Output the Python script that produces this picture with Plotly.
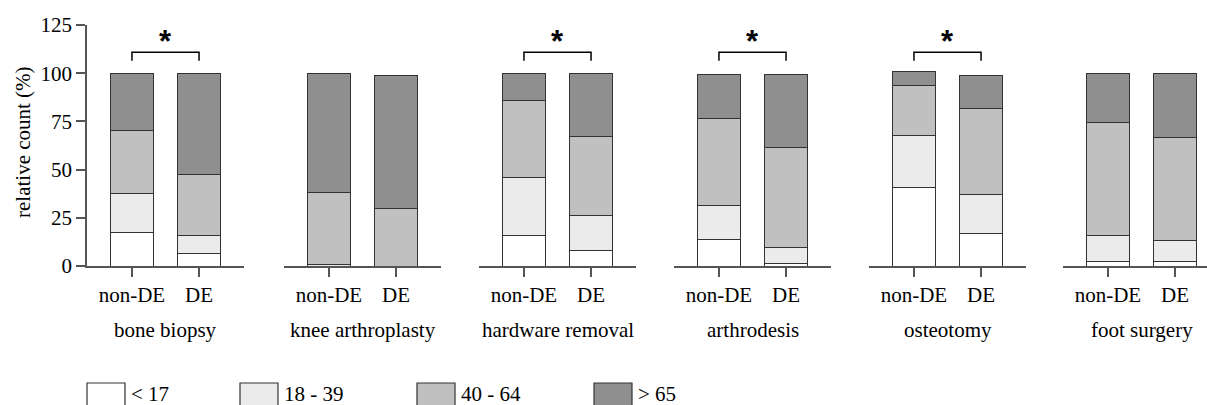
import plotly.graph_objects as go

# Procedures and patient groups
procedures = ["bone biopsy", "knee arthroplasty", "hardware removal",
              "arthrodesis", "osteotomy", "foot surgery"]
groups = ["non-DE", "DE"]
age_groups = ["< 17", "18 - 39", "40 - 64", "> 65"]
age_colors = ["#FFFFFF", "#EBEBEB", "#C0C0C0", "#8F8F8F"]

# Relative counts (%) per age group: one value per procedure
under17_nonde = [17.5, 0.0, 16.0, 13.5, 40.7, 2.1]
under17_de = [6.4, 0.0, 8.2, 1.4, 17.0, 2.1]
age18_39_nonde = [20.1, 0.8, 29.9, 17.9, 27.1, 13.7]
age18_39_de = [9.2, 0.0, 17.8, 8.2, 20.1, 10.9]
age40_64_nonde = [32.9, 37.1, 40.1, 45.0, 26.0, 58.7]
age40_64_de = [32.1, 29.8, 41.1, 51.7, 44.7, 53.9]
over65_nonde = [29.5, 61.7, 14.0, 22.7, 6.9, 25.1]
over65_de = [52.3, 68.8, 32.9, 37.8, 16.8, 32.7]

significant = [True, False, True, True, True, False]

y_ticks = [0, 25, 50, 75, 100, 125]

series = [
    (under17_nonde, under17_de),
    (age18_39_nonde, age18_39_de),
    (age40_64_nonde, age40_64_de),
    (over65_nonde, over65_de),
]

W, H = 1207, 405
FONT = "Liberation Serif"
FS = 21
AXIS_COLOR = "#555555"
EDGE_COLOR = "#333333"

# panel layout in pixels
panel_left = [87, 284, 479, 674, 869, 1063]
panel_width = 157
x_lo, x_hi = -0.67, 1.67
units_per_px = (x_hi - x_lo) / panel_width

fig = go.Figure()

for p, name in enumerate(procedures):
    xa = "x" if p == 0 else f"x{p + 1}"
    for a, (nonde, de) in enumerate(series):
        fig.add_trace(go.Bar(
            x=groups,
            y=[nonde[p], de[p]],
            name=age_groups[a],
            xaxis=xa,
            yaxis="y",
            width=0.64,
            marker=dict(color=age_colors[a],
                        line=dict(color=EDGE_COLOR, width=1.0)),
            showlegend=False,
        ))

layout = dict(
    width=W, height=H,
    margin=dict(l=0, r=0, t=25, b=139, pad=0),
    paper_bgcolor="white", plot_bgcolor="white",
    barmode="stack",
    font=dict(family=FONT, size=FS, color="black"),
    showlegend=False,
    yaxis=dict(
        range=[0, 125], tickvals=y_ticks, anchor="x",
        showline=True, linecolor=AXIS_COLOR, linewidth=1.5,
        ticks="outside", ticklen=9, tickwidth=1.5, tickcolor=AXIS_COLOR,
        showgrid=False, zeroline=False,
        tickfont=dict(family=FONT, size=FS, color="black"),
    ),
)

shapes = []
annotations = []

for p, name in enumerate(procedures):
    left = panel_left[p]
    right = min(left + panel_width, W)
    hi = x_lo + (right - left) * units_per_px
    key = "xaxis" if p == 0 else f"xaxis{p + 1}"
    layout[key] = dict(
        domain=[left / W, right / W],
        range=[x_lo, hi], anchor="y",
        type="category",
        categoryorder="array", categoryarray=groups,
        showline=True, linecolor=AXIS_COLOR, linewidth=1.5,
        ticks="outside", ticklen=9, tickwidth=1.5, tickcolor=AXIS_COLOR,
        showgrid=False, zeroline=False,
        tickfont=dict(family=FONT, size=FS, color="black"),
    )
    xr = "x" if p == 0 else f"x{p + 1}"
    # procedure name under each panel
    annotations.append(dict(
        text=name, xref=xr, yref="paper", x=0.5, y=(266 - 330) / 241,
        showarrow=False, xanchor="center", yanchor="middle",
        font=dict(family=FONT, size=FS, color="black"),
    ))
    # significance bracket between non-DE and DE
    if significant[p]:
        shapes.append(dict(
            type="path", xref=xr, yref="y",
            path="M 0,106.4 L 0,110.9 L 1,110.9 L 1,106.4",
            line=dict(color="black", width=1.5),
        ))
        annotations.append(dict(
            text="<b>*</b>", xref=xr, yref="y", x=0.5, y=116.5,
            showarrow=False, xanchor="center", yanchor="middle",
            font=dict(family="Liberation Sans", size=31, color="black"),
        ))

# y-axis title
annotations.append(dict(
    text="relative count (%)", xref="paper", yref="paper",
    x=23 / W, y=(266 - 142) / 241, textangle=-90,
    showarrow=False, xanchor="center", yanchor="middle",
    font=dict(family=FONT, size=FS, color="black"),
))

# legend drawn as swatches with labels along the bottom
legend_left = [87, 240, 417, 594]
for a, label in enumerate(age_groups):
    x0 = legend_left[a]
    shapes.append(dict(
        type="rect", xref="paper", yref="paper",
        x0=x0 / W, x1=(x0 + 38) / W,
        y0=(266 - 412) / 241, y1=(266 - 383) / 241,
        fillcolor=age_colors[a], line=dict(color=EDGE_COLOR, width=1.2),
    ))
    annotations.append(dict(
        text=label, xref="paper", yref="paper",
        x=(x0 + 42) / W, y=(266 - 394) / 241,
        showarrow=False, xanchor="left", yanchor="middle",
        font=dict(family=FONT, size=FS, color="black"),
    ))

layout["shapes"] = shapes
layout["annotations"] = annotations
fig.update_layout(**layout)

fig.write_html("out.html")
